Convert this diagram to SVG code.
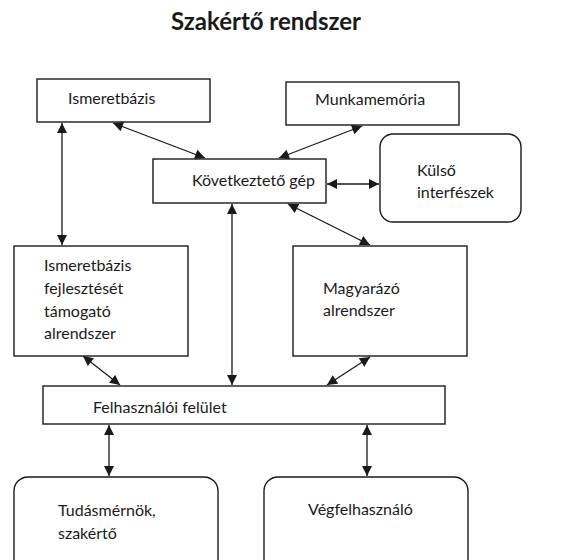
<svg xmlns="http://www.w3.org/2000/svg" width="576" height="560" viewBox="0 0 576 560">
  <style>
    .box { fill: #ffffff; stroke: #1a1a1a; stroke-width: 1.4; }
    .lbl { font-family: Lato, "Liberation Sans", sans-serif; font-size: 16px; fill: #1a1a1a; }
    .title { font-family: Lato, "Liberation Sans", sans-serif; font-size: 24px; font-weight: bold; fill: #1a1a1a; }
    .conn { stroke: #1a1a1a; stroke-width: 1.3; fill: none; marker-start: url(#ah); marker-end: url(#ah); }
  </style>
  <defs>
    <marker id="ah" viewBox="0 0 10 10" refX="10" refY="5" markerWidth="11" markerHeight="10" markerUnits="userSpaceOnUse" orient="auto-start-reverse">
      <path d="M0,0 L10,5 L0,10 Z" fill="#1a1a1a"/>
    </marker>
  </defs>
  <rect width="576" height="560" fill="#ffffff"/>

  <text class="title" x="266" y="30" text-anchor="middle">Szakértő rendszer</text>

  <g id="connectors">
    <line class="conn" x1="62" y1="123" x2="62" y2="245"/>
    <line class="conn" x1="113" y1="123" x2="205" y2="158"/>
    <line class="conn" x1="362" y1="126" x2="279" y2="158"/>
    <line class="conn" x1="327" y1="184" x2="379" y2="184"/>
    <line class="conn" x1="288" y1="204" x2="370" y2="245"/>
    <line class="conn" x1="232" y1="204" x2="232" y2="385"/>
    <line class="conn" x1="83" y1="356" x2="120" y2="385"/>
    <line class="conn" x1="370" y1="357" x2="327" y2="385"/>
    <line class="conn" x1="109" y1="425" x2="109" y2="476"/>
    <line class="conn" x1="367" y1="425" x2="367" y2="476"/>
  </g>

  <g id="ismeretbazis">
    <rect class="box" x="37" y="79" width="173" height="43"/>
    <text class="lbl" x="68" y="104">Ismeretbázis</text>
  </g>

  <g id="munkamemoria">
    <rect class="box" x="286" y="82" width="173" height="43"/>
    <text class="lbl" x="315" y="105">Munkamemória</text>
  </g>

  <g id="kovetkezteto-gep">
    <rect class="box" x="153" y="159" width="173" height="44"/>
    <text class="lbl" x="192" y="186">Következtető gép</text>
  </g>

  <g id="kulso-interfeszek">
    <rect class="box" x="380" y="134" width="141" height="88" rx="13" ry="13"/>
    <text class="lbl" x="417" y="176">Külső</text>
    <text class="lbl" x="417" y="198">interfészek</text>
  </g>

  <g id="ismeretbazis-fejleszto">
    <rect class="box" x="14" y="246" width="174" height="110"/>
    <text class="lbl" x="44" y="271">Ismeretbázis</text>
    <text class="lbl" x="44" y="294">fejlesztését</text>
    <text class="lbl" x="44" y="317">támogató</text>
    <text class="lbl" x="44" y="339">alrendszer</text>
  </g>

  <g id="magyarazo">
    <rect class="box" x="293" y="246" width="174" height="110"/>
    <text class="lbl" x="323" y="294">Magyarázó</text>
    <text class="lbl" x="323" y="316">alrendszer</text>
  </g>

  <g id="felhasznaloi-felulet">
    <rect class="box" x="43" y="386" width="402" height="38"/>
    <text class="lbl" x="93" y="413">Felhasználói felület</text>
  </g>

  <g id="tudasmernok">
    <rect class="box" x="14" y="477" width="204" height="100" rx="14" ry="14"/>
    <text class="lbl" x="58" y="516">Tudásmérnök,</text>
    <text class="lbl" x="58" y="539">szakértő</text>
  </g>

  <g id="vegfelhasznalo">
    <rect class="box" x="264" y="477" width="204" height="100" rx="14" ry="14"/>
    <text class="lbl" x="308" y="515">Végfelhasználó</text>
  </g>
</svg>
